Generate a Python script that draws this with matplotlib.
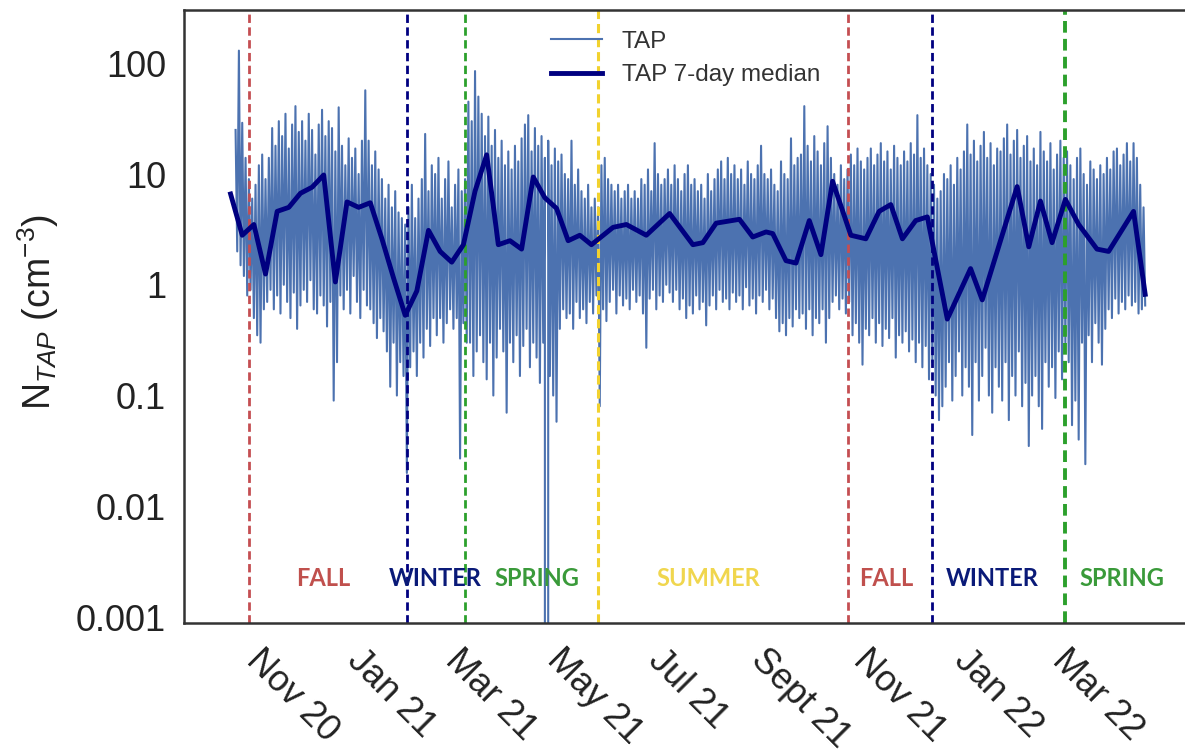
import numpy as np
import pandas as pd
import matplotlib
matplotlib.use('Agg')
import matplotlib.pyplot as plt
import matplotlib.transforms as mtransforms

plt.rcParams['font.family'] = ['Liberation Sans', 'DejaVu Sans']
plt.rcParams['mathtext.fontset'] = 'custom'
plt.rcParams['mathtext.rm'] = 'Liberation Sans'
plt.rcParams['mathtext.it'] = 'Liberation Sans:italic'

# raw TAP number concentration: one peak and one dip per 2-day block, from 2020-10-30
tap_start = '2020-10-30'
tap_hi = [
    25, 130, 29, 14, 9, 6, 8, 12, 15, 9,
    14, 26, 18, 30, 22, 35, 17, 28, 41, 24,
    30, 20, 35, 25, 15, 28, 38, 22, 30, 26,
    16, 40, 18, 12, 21, 14, 17, 10, 20, 57,
    20, 12, 16, 11, 9, 6, 8, 5, 7, 4.5,
    4, 3.5, 5, 8, 4, 6, 9, 23, 7, 12,
    10, 14, 6, 9, 13, 5, 8, 11, 7, 9,
    45, 30, 85, 50, 35, 22, 33, 18, 25, 14,
    20, 12, 16, 11, 18, 13, 21, 28, 34, 16,
    26, 18, 22, 14, 20, 12, 17, 13, 15, 10,
    9, 20, 8, 11, 7, 6, 8, 5, 6, 5,
    12, 14, 9, 8, 7, 8, 6, 7, 8, 6,
    7, 6, 9, 8, 11, 7, 19, 10, 8, 9,
    11, 8, 12, 9, 7, 10, 12, 8, 9, 7,
    8, 6, 10, 7, 9, 11, 13, 9, 14, 10,
    12, 9, 11, 8, 13, 10, 9, 12, 18, 10,
    9, 11, 8, 7, 13, 10, 9, 21, 12, 14,
    15, 41, 18, 13, 22, 16, 12, 19, 27, 14,
    10, 8, 12, 9, 11, 15, 12, 17, 13, 11,
    14, 17, 12, 15, 19, 13, 16, 11, 18, 14,
    12, 16, 13, 19, 15, 34, 14, 17, 12, 10,
    8, 6, 7, 10, 9, 12, 8, 14, 11, 16,
    28, 15, 20, 13, 18, 24, 14, 19, 12, 17,
    16, 21, 28, 15, 20, 25, 14, 18, 22, 13,
    17, 12, 24, 16, 13, 19, 11, 15, 20, 14,
    16, 12, 9, 14, 17, 10, 8, 13, 11, 9,
    12, 10, 14, 11, 16, 17, 12, 15, 19, 13,
    19, 14, 8, 5,
]
tap_lo = [
    2.0, 1.5, 1.2, 0.8, 0.9, 0.5, 0.35, 0.3, 0.6, 0.7,
    0.9, 0.6, 0.8, 0.55, 1.0, 0.7, 0.5, 0.85, 0.4, 0.65,
    0.9, 0.7, 1.1, 0.6, 0.55, 0.8, 0.65, 0.42, 0.7, 0.09,
    0.2, 0.8, 0.6, 0.9, 0.55, 1.2, 0.7, 0.5, 0.9, 0.65,
    0.6, 0.45, 0.33, 0.5, 0.38, 0.25, 0.12, 0.3, 0.1, 0.2,
    0.15, 0.02, 0.18, 0.25, 0.15, 0.3, 0.22, 0.4, 0.28, 0.5,
    0.35, 0.5, 0.3, 0.45, 0.6, 0.4, 0.5, 0.027, 0.45, 0.3,
    0.3, 0.15, 0.25, 0.35, 0.2, 0.14, 0.3, 0.1, 0.22, 0.4,
    0.25, 0.07, 0.3, 0.2, 0.35, 0.15, 0.28, 0.4, 0.18, 0.3,
    0.22, 0.13, 0.3, 0.0, 0.15, 0.1, 0.058, 0.4, 0.6, 0.5,
    0.55, 0.4, 0.7, 0.5, 0.6, 0.45, 0.7, 0.55, 0.8, 0.08,
    0.6, 0.47, 0.7, 0.9, 0.55, 0.8, 0.65, 0.75, 0.6, 0.9,
    0.7, 0.8, 0.55, 0.27, 0.75, 0.9, 0.6, 0.8, 0.7, 1.0,
    0.85, 0.7, 0.9, 0.6, 0.75, 0.5, 0.65, 0.55, 0.8, 0.6,
    0.7, 0.43, 0.65, 0.8, 0.6, 0.9, 0.7, 0.75, 0.6, 0.85,
    0.7, 0.8, 0.6, 0.95, 0.65, 0.75, 0.55, 0.8, 0.7, 0.9,
    0.6, 0.75, 0.5, 0.38, 0.45, 0.35, 0.5, 0.42, 0.6, 0.5,
    0.55, 0.4, 0.6, 0.35, 0.5, 0.45, 0.6, 0.3, 0.5, 0.7,
    0.8, 0.6, 0.75, 0.55, 0.7, 0.35, 0.45, 0.3, 0.19, 0.4,
    0.35, 0.5, 0.3, 0.45, 0.28, 0.4, 0.33, 0.5, 0.22, 0.35,
    0.3, 0.38, 0.25, 0.32, 0.2, 0.3, 0.18, 0.28, 0.14, 0.2,
    0.1, 0.06, 0.08, 0.12, 0.2, 0.09, 0.15, 0.25, 0.1, 0.18,
    0.12, 0.044, 0.2, 0.09, 0.15, 0.27, 0.1, 0.07, 0.18, 0.12,
    0.09, 0.2, 0.06, 0.15, 0.1, 0.25, 0.08, 0.13, 0.035, 0.1,
    0.15, 0.08, 0.05, 0.2, 0.12, 0.18, 0.095, 0.25, 0.14, 0.3,
    0.2, 0.054, 0.09, 0.04, 0.3, 0.024, 0.35, 0.2, 0.45, 0.3,
    0.19, 0.4, 0.6, 0.5, 0.75, 0.55, 0.7, 0.6, 0.8, 0.65,
    0.7, 0.55, 0.6, 0.65,
]

# 7-day median
median_dates = [
    '2020-10-27', '2020-11-03', '2020-11-10', '2020-11-17', '2020-11-24',
    '2020-12-01', '2020-12-08', '2020-12-15', '2020-12-22', '2020-12-29',
    '2021-01-05', '2021-01-12', '2021-01-19', '2021-01-26', '2021-02-02',
    '2021-02-09', '2021-02-16', '2021-02-23', '2021-03-02', '2021-03-09',
    '2021-03-16', '2021-03-23', '2021-03-30', '2021-04-06', '2021-04-13',
    '2021-04-20', '2021-04-27', '2021-05-04', '2021-05-11', '2021-05-18',
    '2021-05-25', '2021-06-01', '2021-06-14', '2021-06-22', '2021-07-04',
    '2021-07-18', '2021-08-01', '2021-08-07', '2021-08-15', '2021-08-29',
    '2021-09-06', '2021-09-14', '2021-09-18', '2021-09-26', '2021-10-02',
    '2021-10-10', '2021-10-17', '2021-10-24', '2021-11-04', '2021-11-13',
    '2021-11-21', '2021-11-28', '2021-12-05', '2021-12-13', '2021-12-20',
    '2021-12-23', '2022-01-01', '2022-01-15', '2022-01-22', '2022-02-12',
    '2022-02-19', '2022-02-26', '2022-03-05', '2022-03-13', '2022-03-21',
    '2022-04-01', '2022-04-08', '2022-04-23', '2022-04-30',
]
median_vals = [
    6.6, 2.8, 3.5, 1.25, 4.6,
    5.0, 6.7, 7.6, 9.8, 1.06,
    5.6, 5.0, 5.5, 2.6, 1.15,
    0.53, 0.88, 3.1, 2.0, 1.6,
    2.3, 7.0, 14.9, 2.3, 2.5,
    2.1, 9.4, 6.1, 4.9, 2.5,
    2.8, 2.3, 3.3, 3.5, 2.8,
    4.4, 2.3, 2.4, 3.6, 3.9,
    2.7, 3.0, 2.9, 1.65, 1.57,
    3.8, 1.87, 8.6, 2.8, 2.6,
    4.6, 5.3, 2.6, 3.8, 4.1,
    2.4, 0.49, 1.4, 0.73, 7.7,
    2.2, 5.7, 2.4, 5.9, 3.5,
    2.1, 2.0, 4.6, 0.82,
]

# season boundaries
season_dates = ['2020-11-07', '2021-02-10', '2021-03-17', '2021-06-05',
                '2021-11-02', '2021-12-23', '2022-03-13']
season_line_colors = ['#C44E52', '#000080', '#2CA02C', '#F2D22E',
                      '#C44E52', '#000080', '#2CA02C']
season_line_widths = [2.0, 2.0, 2.0, 2.2, 2.0, 2.0, 2.8]

season_names = ['FALL', 'WINTER', 'SPRING', 'SUMMER', 'FALL', 'WINTER', 'SPRING']
season_label_dates = ['2020-12-22', '2021-02-27', '2021-04-29', '2021-08-10',
                      '2021-11-25', '2022-01-28', '2022-04-16']
season_text_colors = ['#C0504D', '#0A1A78', '#3A9A3A', '#F0D64E',
                      '#C0504D', '#0A1A78', '#3A9A3A']

tick_dates = ['2020-11-01', '2021-01-01', '2021-03-01', '2021-05-01', '2021-07-01',
              '2021-09-01', '2021-11-01', '2022-01-01', '2022-03-01']
tick_labels = ['Nov 20', 'Jan 21', 'Mar 21', 'May 21', 'Jul 21',
               'Sept 21', 'Nov 21', 'Jan 22', 'Mar 22']
ytick_vals = [1e-3, 1e-2, 1e-1, 1, 10, 100]
ytick_labels = ['0.001', '0.01', '0.1', '1', '10', '100']

# interleave peaks and dips
t_hi = pd.date_range(tap_start, periods=len(tap_hi), freq='2D')
t_lo = t_hi + pd.Timedelta(days=1)
tap_t = np.empty(2 * len(tap_hi), dtype='datetime64[ns]')
tap_t[0::2] = t_hi.values
tap_t[1::2] = t_lo.values
tap_v = np.empty(2 * len(tap_hi))
tap_v[0::2] = tap_hi
tap_v[1::2] = tap_lo

fig = plt.figure(figsize=(11.85, 7.53), dpi=100)
ax = fig.add_axes([0.1553, 0.1726, 0.849, 0.814])

ax.set_yscale('log')
ax.plot(tap_t, tap_v, color='#4C72B0', lw=1.5, label='TAP', zorder=1)
for d, c, w in zip(season_dates, season_line_colors, season_line_widths):
    ax.axvline(pd.Timestamp(d), color=c, lw=w, ls=(0, (3, 1.6)), zorder=2)
ax.plot(pd.to_datetime(median_dates), median_vals, color='#000080', lw=3.5,
        label='TAP 7-day median', zorder=3)

trans = mtransforms.blended_transform_factory(ax.transData, ax.transAxes)
for name, d, c in zip(season_names, season_label_dates, season_text_colors):
    ax.text(pd.Timestamp(d), 0.072, name, transform=trans, ha='center', va='center',
            color=c, fontsize=17, fontweight='bold', family=['Lato', 'DejaVu Sans'])

ax.set_xlim(pd.Timestamp('2020-09-29'), pd.Timestamp('2022-05-27'))
ax.set_ylim(10 ** -3.054, 10 ** 2.48)
ax.set_yticks(ytick_vals)
ax.set_yticklabels(ytick_labels)
ax.minorticks_off()
ax.set_xticks(pd.to_datetime(tick_dates))
ax.set_xticklabels(tick_labels, rotation=-45, ha='left', va='top')
ax.tick_params(axis='both', length=0, labelsize=26, colors='#222222')
ax.tick_params(axis='y', pad=13)
ax.tick_params(axis='x', pad=14)

for s in ax.spines.values():
    s.set_color('#333333')
    s.set_linewidth(1.8)

ax.set_ylabel(r'N$_{TAP}$ (cm$^{-3}$)', fontsize=27, color='#222222')
ax.yaxis.set_label_coords(-0.122, 0.507)

leg = ax.legend(loc='upper left', bbox_to_anchor=(0.4565, 0.972),
                bbox_transform=fig.transFigure, frameon=False, fontsize=17.5,
                handlelength=2.1, handletextpad=0.82, labelspacing=0.46,
                borderaxespad=0)
for txt in leg.get_texts():
    txt.set_color('#333333')

fig.savefig('out.png', dpi=100)
